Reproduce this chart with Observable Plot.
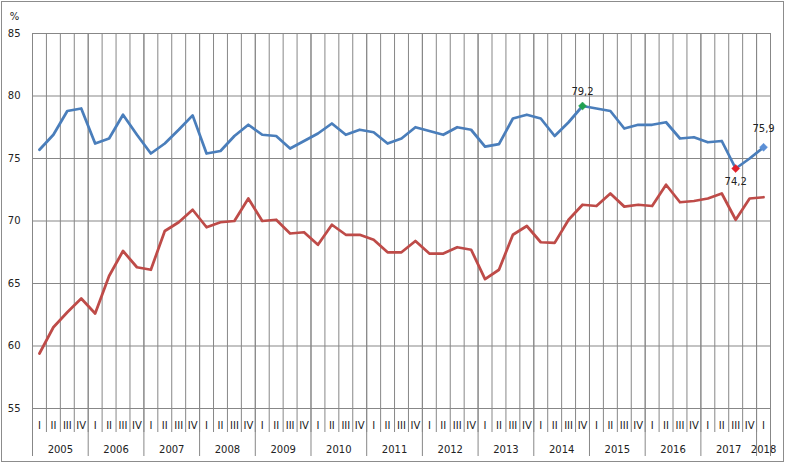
<!DOCTYPE html>
<html>
<head>
<meta charset="utf-8">
<script src="https://cdn.jsdelivr.net/npm/d3@7"></script>
<script src="https://cdn.jsdelivr.net/npm/@observablehq/plot@0.6"></script>
<style>
  html, body { margin: 0; padding: 0; background: #fff; }
  #wrap { position: relative; width: 786px; height: 464px; }
  #border { position: absolute; left: 1px; top: 1px; width: 781px; height: 459px; border: 1px solid #8c8c8c; pointer-events: none; }
  svg { display: block; }
</style>
</head>
<body>
<div id="wrap"><div id="border"></div></div>
<script>
const years = [2005, 2006, 2007, 2008, 2009, 2010, 2011, 2012, 2013, 2014, 2015, 2016, 2017, 2018];
const quarterNames = ["I", "II", "III", "IV"];
const yTicks = [55, 60, 65, 70, 75, 80, 85];

const blueValues = [
  75.7, 76.9, 78.8, 79.0,
  76.2, 76.6, 78.5, 76.9,
  75.4, 76.2, 77.3, 78.45,
  75.4, 75.6, 76.8, 77.7,
  76.9, 76.8, 75.8, 76.4,
  77.0, 77.8, 76.9, 77.3,
  77.1, 76.2, 76.6, 77.5,
  77.2, 76.9, 77.5, 77.3,
  75.95, 76.15, 78.2, 78.5,
  78.2, 76.8, 77.9, 79.2,
  79.0, 78.8, 77.4, 77.7,
  77.7, 77.9, 76.6, 76.7,
  76.3, 76.4, 74.2, 75.0,
  75.9
];
const redValues = [
  59.4, 61.5, 62.7, 63.8,
  62.6, 65.6, 67.6, 66.3,
  66.1, 69.2, 69.9, 70.9,
  69.5, 69.9, 70.0, 71.8,
  70.0, 70.1, 69.0, 69.1,
  68.1, 69.7, 68.9, 68.9,
  68.5, 67.5, 67.5, 68.4,
  67.4, 67.4, 67.9, 67.7,
  65.35, 66.1, 68.9, 69.6,
  68.3, 68.25, 70.1, 71.3,
  71.2, 72.2, 71.15, 71.3,
  71.2, 72.9, 71.5, 71.6,
  71.8, 72.2, 70.1, 71.8,
  71.9
];
// highlighted points on the blue series: index into the quarter sequence, marker colour, label side
const highlightIndex = [39, 50, 52];
const highlightColor = ["#21a050", "#e0202a", "#5b8fd6"];
const highlightSide = ["above", "below", "above-high"];

// build tables
const periods = [];
years.forEach(y => quarterNames.forEach((q, k) => {
  if (y < 2018 || k === 0) periods.push({year: y, q});
}));
const n = periods.length;
const blueData = blueValues.map((v, i) => ({i, v}));
const redData = redValues.map((v, i) => ({i, v}));
const quarterLabels = periods.map((p, i) => ({i, t: p.q}));
const yearLabels = years.map(y => {
  const idx = periods.map((p, i) => p.year === y ? i : null).filter(d => d !== null);
  return {x: (idx[0] + idx[idx.length - 1]) / 2, t: String(y)};
});
const quarterBounds = d3.range(n + 1).map(i => i - 0.5);
const yearBounds = years.map(y => periods.findIndex(p => p.year === y) - 0.5).concat([n - 0.5]);
const highlights = highlightIndex.map((i, k) => ({
  i, v: blueValues[i], color: highlightColor[k], side: highlightSide[k],
  t: String(blueValues[i]).replace(".", ",")
}));

const grid = "#878787";

const chart = Plot.plot({
  width: 786,
  height: 464,
  marginLeft: 32,
  marginRight: 16,
  marginTop: 33,
  marginBottom: 56,
  style: {fontFamily: "DejaVu Sans", fontSize: "10px", color: "#222", background: "transparent"},
  x: {domain: [-0.5, n - 0.5], axis: null},
  y: {domain: [55, 85], ticks: yTicks, tickSize: 0, tickPadding: 12, label: null},
  marks: [
    Plot.ruleY(yTicks, {stroke: grid, strokeWidth: 1}),
    Plot.ruleX(quarterBounds, {stroke: grid, strokeWidth: 1, insetBottom: -24}),
    Plot.ruleX(yearBounds, {stroke: grid, strokeWidth: 1, insetBottom: -48}),
    Plot.text(quarterLabels, {x: "i", text: "t", frameAnchor: "bottom", lineAnchor: "middle", dy: 17, fill: "#222"}),
    Plot.text(yearLabels, {x: "x", text: "t", frameAnchor: "bottom", lineAnchor: "middle", dy: 41, fill: "#222"}),
    Plot.text(["%"], {frameAnchor: "top-left", textAnchor: "middle", lineAnchor: "middle", dx: -18, dy: -17, fill: "#222"}),
    Plot.line(redData, {x: "i", y: "v", stroke: "#be4b48", strokeWidth: 2.75, strokeLinejoin: "round"}),
    Plot.line(blueData, {x: "i", y: "v", stroke: "#4a7ebb", strokeWidth: 2.75, strokeLinejoin: "round"}),
    Plot.dot(highlights, {x: "i", y: "v", symbol: "diamond2", r: 3.6, fill: "color", stroke: "color", strokeWidth: 0.5}),
    Plot.text(highlights, {filter: d => d.side === "above", x: "i", y: "v", text: "t", fill: "#222", dy: -14}),
    Plot.text(highlights, {filter: d => d.side === "below", x: "i", y: "v", text: "t", fill: "#222", dy: 13}),
    Plot.text(highlights, {filter: d => d.side === "above-high", x: "i", y: "v", text: "t", fill: "#222", dy: -18})
  ]
});
document.getElementById("wrap").appendChild(chart);
</script>
</body>
</html>
